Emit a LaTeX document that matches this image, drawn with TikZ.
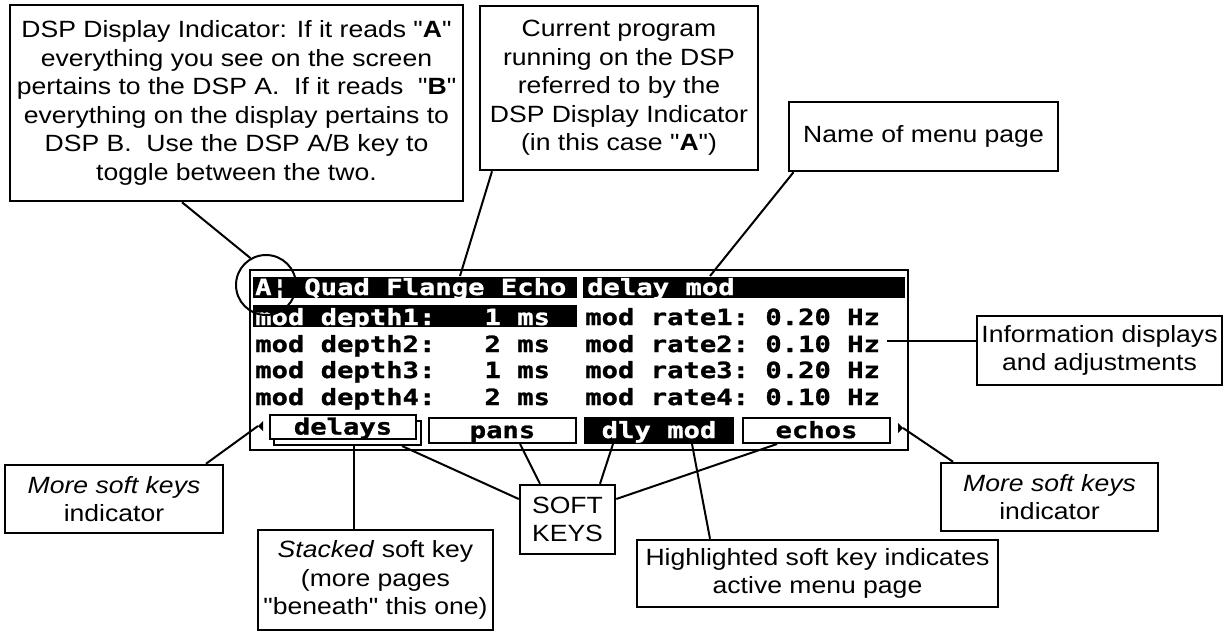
\documentclass[tikz,border=0pt]{standalone}
\usepackage{fontspec}
\setmainfont[FakeStretch=1.13,Ligatures=TeXOff]{Liberation Sans}
\newfontfamily\lcdfont[FakeStretch=1.22,FakeBold=1.2]{DejaVu Sans Mono}
\newcommand\cptfont{\fontsize{23.5}{28.5}\selectfont}
\newcommand\lcdsize{\lcdfont\bfseries\fontsize{22.3}{22}\selectfont}
\begin{document}
\begin{tikzpicture}[x=1pt,y=-1pt,
  capbox/.style={draw, line width=2.5pt, inner sep=0pt, align=center, fill=white, font=\cptfont},
  conn/.style={line width=2pt},
  lcd/.style={inner sep=0pt, anchor=base west, font=\lcdsize},
  skey/.style={draw, line width=2pt, fill=white, inner sep=0pt, text height=16pt, text depth=1pt, font=\lcdsize}
]
\useasboundingbox (0,0) rectangle (1230,632);

% display
\node[draw, line width=2.5pt, minimum width=658pt, minimum height=180pt, inner sep=0pt] (disp) at (579,360) {};
\fill (253,277) rectangle (577,298);
\fill (583,277) rectangle (905,298);
\fill (253,305) rectangle (577,327);

\node[lcd, text=white] (title) at (255,295) {A¦ Quad Flange Echo};
\node[lcd, text=white] (page) at (587,295) {delay mod};

\node[lcd, text=white] (l1) at (255,325) {mod depth1:~~~1~ms};
\node[lcd] (l2) at (255,352) {mod depth2:~~~2~ms};
\node[lcd] (l3) at (255,378) {mod depth3:~~~1~ms};
\node[lcd] (l4) at (255,405) {mod depth4:~~~2~ms};

\node[lcd] (r1) at (585,325) {mod rate1:~0.20~Hz};
\node[lcd] (r2) at (585,352) {mod rate2:~0.10~Hz};
\node[lcd] (r3) at (585,378) {mod rate3:~0.20~Hz};
\node[lcd] (r4) at (585,405) {mod rate4:~0.10~Hz};

% soft keys
\node[skey, minimum width=147pt, minimum height=24pt] (back) at (347.5,433) {};
\node[skey, minimum width=146pt, minimum height=24pt] (delays) at (343,427) {delays};
\node[skey, minimum width=147pt, minimum height=25pt] (pans) at (502.5,430.5) {pans};
\node[skey, minimum width=148pt, minimum height=25pt, fill=black, text=white] (dlymod) at (659,430.5) {dly mod};
\node[skey, minimum width=147pt, minimum height=25pt] (echos) at (816.5,430.5) {echos};

% more-keys indicators
\coordinate (lind) at (258,426);
\coordinate (rind) at (903,428);
\fill (lind) -- (263,421) -- (263,431) -- cycle;
\fill (rind) -- (898,423) -- (898,433) -- cycle;

% indicator circle
\node[circle, draw, line width=2pt, minimum size=60pt, inner sep=0pt] (ind) at (266,285) {};

% caption boxes
\node[capbox, minimum width=453pt, minimum height=196pt] (dspbox) at (236.5,103)
  {DSP Display Indicator: If it reads "\textbf{A}"\\
   everything you see on the screen\\
   pertains to the DSP A.\ \ If it reads\ \ "\textbf{B}"\\
   everything on the display pertains to\\
   DSP B.\ \ Use the DSP A/B key to\\
   toggle between the two.};
\node[capbox, minimum width=278pt, minimum height=164pt] (progbox) at (619,88)
  {Current program\\ running on the DSP\\ referred to by the\\ DSP Display Indicator\\ (in this case "\textbf{A}")};
\node[capbox, minimum width=269pt, minimum height=69pt] (namebox) at (923.5,136.5) {Name of menu page};
\node[capbox, minimum width=245pt, minimum height=69pt] (infobox) at (1099.5,350.5) {Information displays\\ and adjustments};
\node[capbox, minimum width=218pt, minimum height=68pt] (lmore) at (114,499) {\textit{More soft keys}\\ indicator};
\node[capbox, minimum width=217pt, minimum height=68pt] (rmore) at (1049.5,497) {\textit{More soft keys}\\ indicator};
\node[capbox, minimum width=235pt, minimum height=100pt] (stackbox) at (375.5,580) {\textit{Stacked} soft key\\ (more pages\\ "beneath" this one)};
\node[capbox, minimum width=95pt, minimum height=69pt] (softbox) at (567.5,519.5) {SOFT\\ KEYS};
\node[capbox, minimum width=361pt, minimum height=67pt] (hlbox) at (817.5,573.5) {Highlighted soft key indicates\\ active menu page};

% connectors
\coordinate (tflange) at (460,276);
\coordinate (tdelay) at (710,276);
\coordinate (rate2) at (887,341);
\draw[conn] ([xshift=-54.5pt]dspbox.south) -- (ind.120);
\draw[conn] ([xshift=-127pt]progbox.south) -- (tflange);
\draw[conn] ([xshift=-130pt]namebox.south) -- (tdelay);
\draw[conn] (rate2) -- (rate2 -| infobox.west);
\draw[conn] ([xshift=92pt]lmore.north) -- (lind);
\draw[conn] ([xshift=-96.5pt]rmore.north) -- (rind);
\draw[conn] ([xshift=-21.5pt]stackbox.north) -- ([xshift=-21.5pt]stackbox.north |- back.south);
\draw[conn] ([yshift=20.5pt]softbox.west) -- ([xshift=54.5pt]back.south);
\draw[conn] ([xshift=-27.5pt]softbox.north) -- ([xshift=17.5pt]pans.south);
\draw[conn] ([xshift=32.5pt]softbox.north) -- ([xshift=-46pt]dlymod.south);
\draw[conn] ([yshift=20.5pt]softbox.east) -- ([xshift=-39.5pt]echos.south);
\draw[conn] ([xshift=-107.5pt]hlbox.north) -- ([xshift=33pt]dlymod.south);
\end{tikzpicture}
\end{document}
